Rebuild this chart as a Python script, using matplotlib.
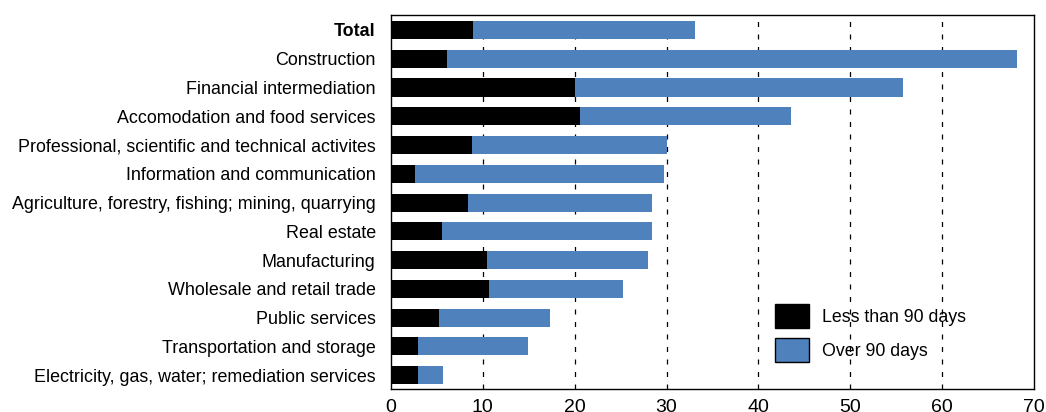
import matplotlib
matplotlib.use('Agg')
import matplotlib.pyplot as plt
import numpy as np

plt.rcParams['font.family'] = ['Liberation Sans', 'DejaVu Sans']

kategorie = ['Total', 'Construction', 'Financial intermediation',
             'Accomodation and food services',
             'Professional, scientific and technical activites',
             'Information and communication',
             'Agriculture, forestry, fishing; mining, quarrying',
             'Real estate', 'Manufacturing', 'Wholesale and retail trade',
             'Public services', 'Transportation and storage',
             'Electricity, gas, water; remediation services']
ponizej_90 = [8.9, 6.1, 20.0, 20.6, 8.8, 2.6, 8.4, 5.6, 10.5, 10.7, 5.2, 2.9, 2.9]
suma = [33.1, 68.1, 55.7, 43.5, 30.1, 29.7, 28.4, 28.4, 28.0, 25.3, 17.3, 14.9, 5.7]
powyzej_90 = [s - p for s, p in zip(suma, ponizej_90)]

y = np.arange(len(kategorie))

fig = plt.figure(figsize=(10.46, 4.12), dpi=100)
ax = fig.add_axes([0.3738, 0.0558, 0.6147, 0.9078])

ax.barh(y, ponizej_90, height=0.63, color='black', label='Less than 90 days', zorder=3)
ax.barh(y, powyzej_90, left=ponizej_90, height=0.63, color='#4F81BD',
        label='Over 90 days', zorder=3)

ax.set_xlim(0, 70)
ax.set_ylim(12.48, -0.52)
ax.set_xticks(range(0, 71, 10))
ax.set_yticks(y)
ax.set_yticklabels(kategorie, fontsize=12.9)
ax.get_yticklabels()[0].set_fontweight('bold')
ax.tick_params(axis='y', length=0, pad=11)
ax.tick_params(axis='x', length=0, pad=7, labelsize=14)

# przerywane linie siatki
for xg in range(10, 70, 10):
    ax.axvline(xg, color='black', linestyle=(0, (4, 6)), linewidth=0.9, zorder=1)

for s in ax.spines.values():
    s.set_color('black')
    s.set_linewidth(1.0)

ax.legend(loc='lower left', bbox_to_anchor=(0.597, 0.072), frameon=False, fontsize=12.8,
          handlelength=1.91, handleheight=1.7, labelspacing=0.55, handletextpad=0.73,
          borderaxespad=0, borderpad=0)
for h in ax.get_legend().legend_handles:
    h.set_edgecolor('black')
    h.set_linewidth(1.0)

fig.savefig('out.png', dpi=100)
